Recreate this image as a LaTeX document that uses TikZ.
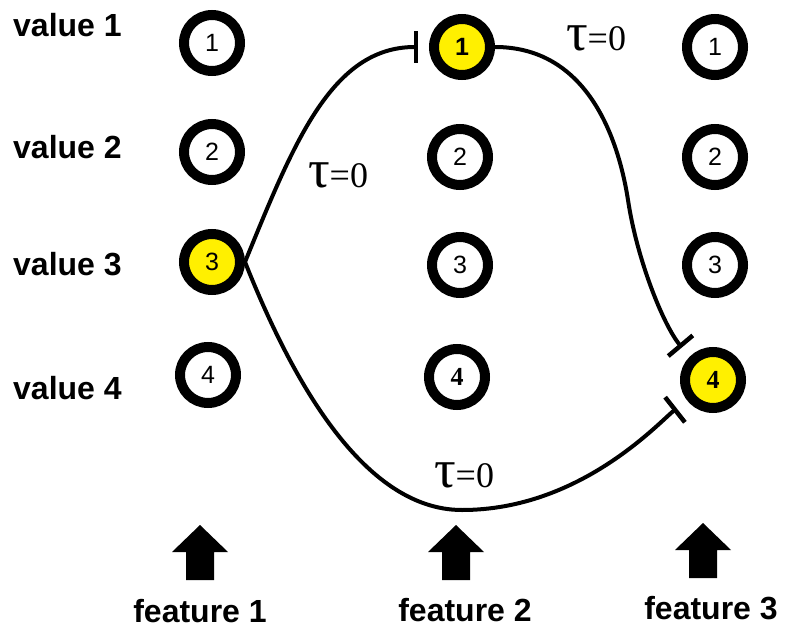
\documentclass[tikz,border=0pt]{standalone}
\usepackage{fontspec}
\setmainfont{Liberation Sans}
\newfontfamily\serifface{Liberation Serif}
\usetikzlibrary{arrows.meta}
\definecolor{hilite}{RGB}{255,240,0}
\newcommand{\taueq}{{\fontsize{54}{54}\selectfont τ}{\fontsize{36}{36}\selectfont =0}}
\begin{document}
\begin{tikzpicture}[x=1pt,y=-1pt,
  valnode/.style={circle, draw, line width=10pt, minimum size=56pt, inner sep=0pt,
    fill=white, font=\fontsize{25}{25}\selectfont},
  chosen/.style={valnode, fill=hilite},
  sernum/.style={font=\fontsize{26}{26}\serifface\bfseries},
  rowlabel/.style={anchor=west, inner sep=0pt, font=\fontsize{32}{32}\selectfont\bfseries},
  collabel/.style={inner sep=0pt, font=\fontsize{32}{32}\selectfont\bfseries},
  taulabel/.style={inner sep=0pt, anchor=base, font=\serifface},
  conn/.style={line width=4pt, -{Bar[width=32pt,line width=4.5pt]}},
  uparrow/.pic={\fill (0,0) -- (28,27) -- (14,27) -- (14,55) -- (-14,55) -- (-14,27) -- (-28,27) -- cycle;}
]
\useasboundingbox (0,0) rectangle (785,632);

% row labels
\node[rowlabel] (v1) at (13,25)  {value 1};
\node[rowlabel] (v2) at (13,147) {value 2};
\node[rowlabel] (v3) at (13,264) {value 3};
\node[rowlabel] (v4) at (13,388) {value 4};

% feature 1
\node[valnode] (c11) at (212,43)  {1};
\node[valnode] (c12) at (212,152) {2};
\node[chosen]  (c13) at (212,262) {3};
\node[valnode] (c14) at (208,375) {4};

% feature 2
\node[chosen]  (c21) at (462,47)  {\bfseries 1};
\node[valnode] (c22) at (460,157) {2};
\node[valnode] (c23) at (460,265) {3};
\node[valnode, sernum] (c24) at (457,377) {4};

% feature 3
\node[valnode] (c31) at (715,47)  {1};
\node[valnode] (c32) at (715,157) {2};
\node[valnode] (c33) at (715,265) {3};
\node[chosen, sernum] (c34) at (713,380) {4};

% links between chosen values
\coordinate (k2) at (628,200);
\coordinate (k3) at (462,510);
\draw[conn, shorten >=11pt] (c13.east) .. controls +(48,-117) and +(-98,0) .. (c21.west);
\draw[conn, shorten >=12pt] (c21.east) .. controls +(88,0) and +(-11,-70) .. (k2)
  .. controls +(9,60) and +(-26,-31) .. (c34.135);
\draw[conn, shorten >=13pt] (c13.east) .. controls +(43,108) and +(-102,0) .. (k3)
  .. controls +(118,0) and +(-28,22) .. (c34.218);

\node[taulabel] (t1) at (338,187) {\taueq};
\node[taulabel] (t2) at (596,50)  {\taueq};
\node[taulabel] (t3) at (464,487) {\taueq};

% feature labels with arrows
\pic at (200,525) {uparrow};
\pic at (456,525) {uparrow};
\pic at (703,523) {uparrow};
\node[collabel] (f1) at (200,611) {feature 1};
\node[collabel] (f2) at (465,610) {feature 2};
\node[collabel] (f3) at (711,608) {feature 3};
\end{tikzpicture}
\end{document}
